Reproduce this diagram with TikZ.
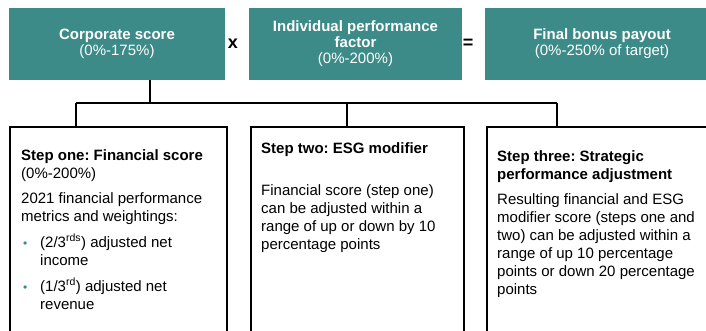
\documentclass[tikz,border=0pt]{standalone}
\usepackage{fontspec}
\setmainfont{Liberation Sans}
\frenchspacing
\definecolor{bonusteal}{RGB}{61,139,137}
\tikzset{
  headbox/.style={fill=bonusteal, text=white, align=center, minimum height=72, inner sep=0, font=\fontsize{15}{16}\selectfont},
  stepbox/.style={draw, line width=1.8, minimum height=240, anchor=north west, inner sep=0},
  steptext/.style={anchor=north west, align=left, inner sep=0, font=\fontsize{15}{18}\selectfont},
  opsign/.style={font=\fontsize{18}{18}\selectfont\bfseries},
  link/.style={line width=1.8},
}
\newcommand{\bonusbullet}{\makebox[19pt][l]{\hspace{2pt}\textcolor{bonusteal}{\fontsize{12}{12}\selectfont\textbullet}}}
\begin{document}
\begin{tikzpicture}[x=1pt,y=-1pt]
  \useasboundingbox (0,0) rectangle (706,331);
  \clip (0,0) rectangle (706,331);
  % top row
  \node[headbox, minimum width=216] (corp) at (117,44) {\textbf{Corporate score}\\(0\%-175\%)};
  \node[headbox, minimum width=213] (indiv) at (355.5,44) {\textbf{Individual performance}\\\textbf{factor}\\(0\%-200\%)};
  \node[headbox, minimum width=234] (final) at (602,44) {\textbf{Final bonus payout}\\(0\%-250\% of target)};
  \node[opsign] (times) at (233,44) {x};
  \node[opsign] (equals) at (468,44) {=};
  % steps
  \node[stepbox, minimum width=217] (one) at (9,126) {};
  \node[stepbox, minimum width=213] (two) at (250,126) {};
  \node[stepbox, minimum width=240] (three) at (486,126) {};
  \node[steptext] (onetext) at (21,149) {\textbf{Step one: Financial score}\\
    (0\%-200\%)\\[7pt]
    2021 financial performance\\
    metrics and weightings:\\[8pt]
    \bonusbullet(2/3\textsuperscript{rds}) adjusted net\\
    \hspace*{19pt}income\\[8pt]
    \bonusbullet(1/3\textsuperscript{rd}) adjusted net\\
    \hspace*{19pt}revenue};
  \node[steptext] (twotext) at (261,142) {\textbf{Step two: ESG modifier}\\[24pt]
    Financial score (step one)\\
    can be adjusted within a\\
    range of up or down by 10\\
    percentage points};
  \node[steptext] (threetext) at (497,150) {\textbf{Step three: Strategic}\\
    \textbf{performance adjustment}\\[7pt]
    Resulting financial and ESG\\
    modifier score (steps one and\\
    two) can be adjusted within a\\
    range of up 10 percentage\\
    points or down 20 percentage\\
    points};
  % connectors
  \coordinate (fork) at (150,103);
  \coordinate (drop1) at (76,103);
  \coordinate (drop2) at (347,103);
  \coordinate (drop3) at (557,103);
  \draw[link] (corp.south -| fork) -- (fork);
  \draw[link] (drop1) -- (drop3);
  \foreach \n/\b in {1/one,2/two,3/three}
    \draw[link] (drop\n) -- (drop\n |- \b.north);
\end{tikzpicture}
\end{document}
